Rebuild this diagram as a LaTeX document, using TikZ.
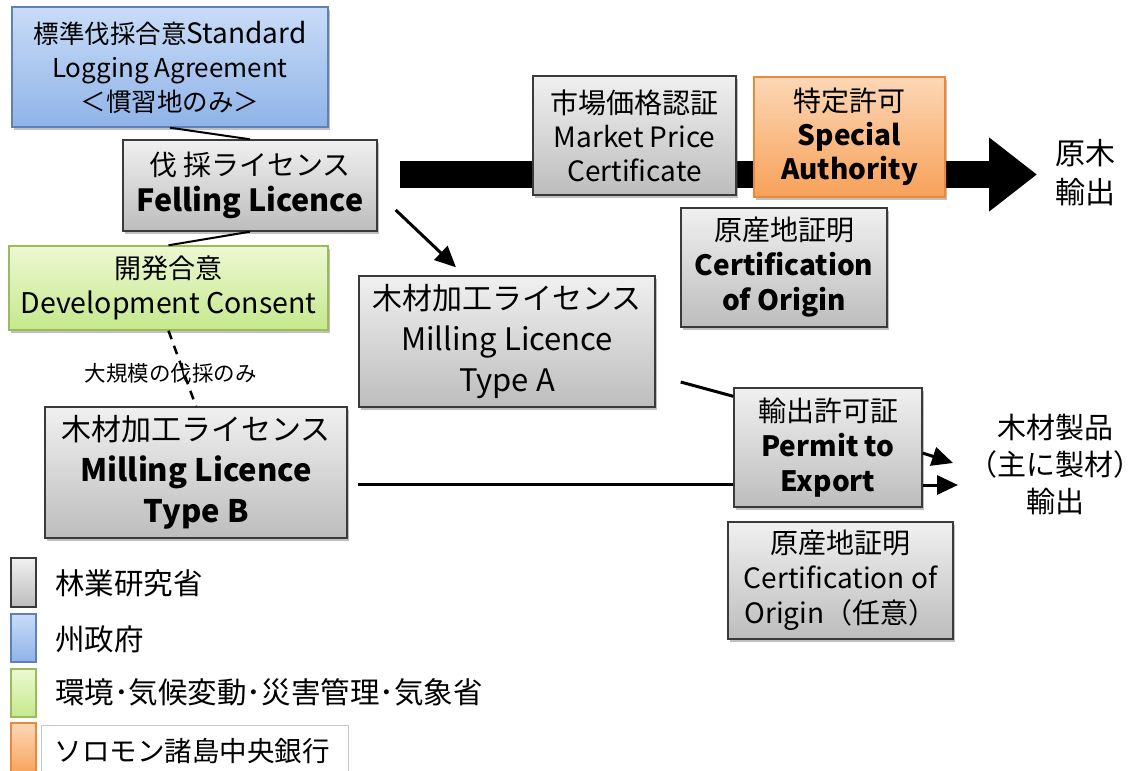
\documentclass[tikz,border=0pt]{standalone}
\usepackage{fontspec}
\setmainfont{Noto Sans CJK JP}
\usetikzlibrary{arrows.meta,shadows,calc}
\newcommand\fsz[2]{\fontsize{#1}{#2}\selectfont}
\definecolor{gtop}{HTML}{F0F0F0}
\definecolor{gbot}{HTML}{BDBDBD}
\definecolor{gline}{HTML}{3A3A3A}
\definecolor{btop}{HTML}{C9DCF7}
\definecolor{bbot}{HTML}{8FB3E8}
\definecolor{bline}{HTML}{5F80B8}
\definecolor{ntop}{HTML}{EDF8D3}
\definecolor{nbot}{HTML}{C5E88C}
\definecolor{nline}{HTML}{9BBB59}
\definecolor{otop}{HTML}{FCD7B6}
\definecolor{obot}{HTML}{F7A159}
\definecolor{oline}{HTML}{E8893C}
\tikzset{
  box/.style={line width=1.4pt, inner sep=0pt, align=center,
    drop shadow={shadow xshift=2pt, shadow yshift=-2.5pt, opacity=0.35, fill=black!70}},
  graybox/.style={box, draw=gline, top color=gtop, bottom color=gbot},
  bluebox/.style={box, draw=bline, top color=btop, bottom color=bbot},
  greenbox/.style={box, draw=nline, top color=ntop, bottom color=nbot},
  orangebox/.style={box, draw=oline, top color=otop, bottom color=obot},
  conn/.style={line width=3pt},
  arr/.style={conn, -{Triangle[length=21pt,width=19pt]}},
  keybox/.style={line width=1.2pt, inner sep=0pt, minimum width=25pt},
  legtext/.style={anchor=west, inner sep=0pt, font=\fsz{29.5}{34}},
}
\begin{document}
\begin{tikzpicture}[x=1pt,y=-1pt]
\useasboundingbox (0,0) rectangle (1141,771);
\fill[white] (0,0) rectangle (1141,771);

% big export arrow (drawn first, boxes sit on it)
\coordinate (bs) at (400,174.5);
\coordinate (bt) at (1037,174.5);
\draw[line width=27pt, -{Triangle[length=48pt,width=71pt]}] (bs) -- (bt);

% boxes
\node[bluebox, minimum width=316pt, minimum height=120pt, font=\fsz{25.5}{34}] (sla) at (170,67)
  {標準伐採合意{\fsz{28}{34}Standard}\\{\fsz{26}{34}Logging Agreement}\\＜慣習地のみ＞};
\node[graybox, minimum width=254pt, minimum height=91pt, font=\fsz{28}{36}] (fell) at (250,185.5)
  {伐 採ライセンス\\\fsz{30.5}{36}\bfseries Felling Licence};
\node[greenbox, minimum width=319pt, minimum height=84pt, font=\fsz{27}{35}] (dev) at (168.5,288)
  {開発合意\\\fsz{28.5}{35}Development Consent};
\node[graybox, minimum width=296pt, minimum height=131pt, font=\fsz{30}{41}] (millA) at (507,341.5)
  {木材加工ライセンス\\{\fsz{31}{41}Milling Licence}\\\fsz{31}{41}Type A};
\node[graybox, minimum width=302pt, minimum height=131pt, font=\fsz{30}{41}] (millB) at (196,472.5)
  {木材加工ライセンス\\{\fsz{31}{41}\bfseries Milling Licence}\\\fsz{31}{41}\bfseries Type B};
\node[graybox, minimum width=203pt, minimum height=119pt, font=\fsz{28}{34}] (mpc) at (634.5,135.5)
  {市場価格認証\\Market Price\\Certificate};
\node[orangebox, minimum width=191pt, minimum height=120pt, font=\fsz{28}{34}] (sa) at (849.5,137)
  {特定許可\\\bfseries Special\\\bfseries Authority};
\node[graybox, minimum width=206pt, minimum height=119pt, font=\fsz{28}{35}] (coo) at (784,267.5)
  {原産地証明\\\bfseries Certification\\\bfseries of Origin};
\node[graybox, minimum width=188pt, minimum height=119pt, font=\fsz{28}{35}] (pte) at (828,447.5)
  {輸出許可証\\\bfseries Permit to\\\bfseries Export};
\node[graybox, minimum width=225pt, minimum height=117pt, font=\fsz{28}{35}] (coo2) at (840.5,580.5)
  {原産地証明\\Certification of\\Origin（任意）};

% destination texts
\node[align=center, inner sep=0pt, font=\fsz{30}{39}] (raw) at (1085,173) {原木\\輸出};
\node[align=center, inner sep=0pt, font=\fsz{29}{37}] (prod) at (1055,464) {木材製品\\（主に製材）\\輸出};

% connectors
\draw[conn, line width=2pt] (sla.south) -- (fell.north);
\draw[conn, line width=2pt] (fell.south) -- (dev.north);
\draw[conn, line width=2.5pt, dash pattern=on 9pt off 7pt] (dev.south) -- (millB.north)
  node[pos=0.56, xshift=-13pt, inner sep=0pt, font=\fsz{21.5}{24}] (lbl) {大規模の伐採のみ};
\draw[arr] ([shift={(18,24.5)}]fell.east) -- ([shift={(-51,-8)}]millA.north);
\draw[conn] ([shift={(25,40.5)}]millA.east) -- ([shift={(0,9)}]pte.north west);
\draw[conn] ([shift={(10,11.5)}]millB.east) -- ([shift={(0,36.5)}]pte.west);
\coordinate (o1) at (953,463);
\coordinate (o2) at (958,485);
\draw[arr] ([shift={(0,5.5)}]pte.east) -- (o1);
\draw[arr] ([shift={(0,37.5)}]pte.east) -- (o2);

% legend
\node[keybox, draw=gline, top color=gtop, bottom color=gbot, minimum height=49pt] (k1) at (23.5,582.5) {};
\node[keybox, draw=bline, top color=btop, bottom color=bbot, minimum height=48pt] (k2) at (23.5,638) {};
\node[keybox, draw=nline, top color=ntop, bottom color=nbot, minimum height=48pt] (k3) at (23.5,693) {};
\node[keybox, draw=oline, top color=otop, bottom color=obot, minimum height=52pt] (k4) at (23.5,749) {};
\node[legtext] (t1) at (55,583) {林業研究省};
\node[legtext] (t2) at (55,639) {州政府};
\node[legtext] (t3) at (55,692) {環境･気候変動･災害管理･気象省};
\node[draw=black!22, line width=1pt, anchor=north west, minimum width=307pt, minimum height=52pt,
  inner xsep=13pt, inner ysep=0pt, text width=281pt, align=left, font=\fsz{27.5}{34}] (t4) at (41,725)
  {ソロモン諸島中央銀行};
\end{tikzpicture}
\end{document}
